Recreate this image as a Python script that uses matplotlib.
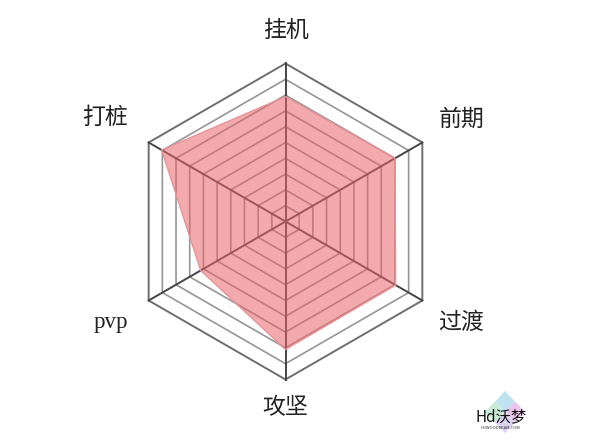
import numpy as np
import matplotlib
matplotlib.use("Agg")
import matplotlib.pyplot as plt
from matplotlib.patches import Polygon

plt.rcParams['font.family'] = ['Noto Sans CJK SC', 'DejaVu Sans']

# ---- data ----
categories = ["挂机", "前期", "过渡", "攻坚", "pvp", "打桩"]
values = [7.9, 8.0, 8.05, 8.1, 6.2, 9.05]
max_value = 10
ring_levels = list(range(1, 11))

# ---- layout ----
W, H = 600, 443
cx, cy = 285.5, 221.5   # centre in pixels
scale = 15.8            # pixels per unit
angles = np.deg2rad([90, 30, -30, -90, 210, 150])
label_radius = [12.1, 12.9, 12.8, 11.8, 12.8, 13.2]

fig = plt.figure(figsize=(W / 100, H / 100), dpi=100)
ax = fig.add_axes([0, 0, 1, 1])
ax.set_xlim(-cx / scale, (W - cx) / scale)
ax.set_ylim(-(H - cy) / scale, cy / scale)
ax.axis('off')

cosA, sinA = np.cos(angles), np.sin(angles)

# rings
for lv in ring_levels:
    xs = np.append(lv * cosA, lv * cosA[0])
    ys = np.append(lv * sinA, lv * sinA[0])
    col = '#6e6e6e' if lv == max_value else '#969696'
    lw = 1.4 if lv == max_value else 1.2
    ax.plot(xs, ys, color=col, lw=lw, zorder=1)

# spokes
for c, s in zip(cosA, sinA):
    ax.plot([0, max_value * c], [0, max_value * s], color='#444444', lw=1.4, zorder=2)

# data polygon
v = np.array(values)
pts = np.column_stack([v * cosA, v * sinA])
ax.add_patch(Polygon(pts, closed=True, facecolor='#e86469', alpha=0.55,
                     edgecolor='none', zorder=3))
ax.add_patch(Polygon(pts, closed=True, facecolor='none',
                     edgecolor='#eb9297', lw=1.0, zorder=4))

# labels
for name, a, r in zip(categories, angles, label_radius):
    fam = ['Liberation Serif', 'DejaVu Serif'] if name == 'pvp' else ['Noto Sans CJK SC', 'DejaVu Sans']
    ax.text(r * np.cos(a), r * np.sin(a), name, ha='center', va='center',
            fontsize=16.5, color='#222222', family=fam)

# watermark
def px(x, y):
    return ((x - cx) / scale, (cy - y) / scale)

wx, wy = 505, 412
quad_cols = ['#bfe3f0', '#ecc6ea', '#c8ecd4', '#dcd2f2']
top, right, bottom, left = px(wx, wy - 21), px(wx + 20, wy), px(wx, wy + 21), px(wx - 20, wy)
ctr = px(wx, wy)
mid = lambda p, q: ((p[0] + q[0]) / 2, (p[1] + q[1]) / 2)
ax.add_patch(Polygon([top, mid(top, right), ctr, mid(left, top)], facecolor=quad_cols[0], edgecolor='none', zorder=5))
ax.add_patch(Polygon([mid(top, right), right, mid(right, bottom), ctr], facecolor=quad_cols[1], edgecolor='none', zorder=5))
ax.add_patch(Polygon([mid(left, top), ctr, mid(bottom, left), left], facecolor=quad_cols[2], edgecolor='none', zorder=5))
ax.add_patch(Polygon([ctr, mid(right, bottom), bottom, mid(bottom, left)], facecolor=quad_cols[3], edgecolor='none', zorder=5))
tx, ty = px(501, 417)
ax.text(tx, ty, "Hd沃梦", ha='center', va='center', fontsize=11, color='#111111', zorder=6)
tx2, ty2 = px(500, 428)
ax.text(tx2, ty2, "HDWOODREAM.COM", ha='center', va='center', fontsize=3, color='#333333', zorder=6)

fig.savefig('out.png', dpi=100, facecolor='white')
